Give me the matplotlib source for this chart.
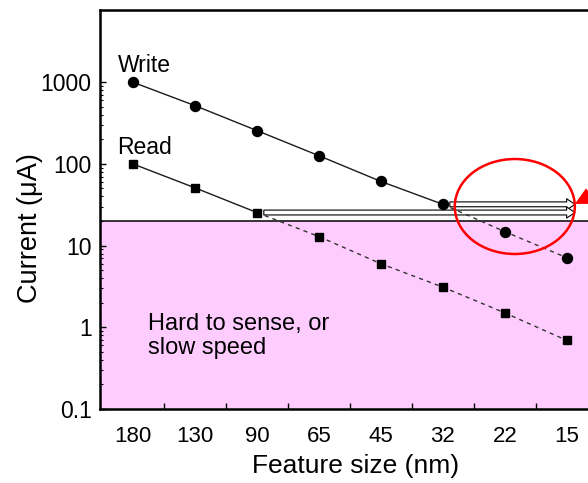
import numpy as np
import matplotlib.pyplot as plt
from matplotlib.patches import Ellipse, Polygon

plt.rcParams['font.family'] = ['Liberation Sans', 'DejaVu Sans']

## Data
features = ['180', '130', '90', '65', '45', '32', '22', '15']
write_current = [1000, 517, 256, 126, 61, 32, 14.8, 7.1]
read_current = [100, 51, 25.4, 12.9, 6.0, 3.1, 1.5, 0.69]
sense_limit = 20.0
write_last_solid = 5     # solid line up to 32 nm, dashed after
read_last_solid = 2      # solid line up to 90 nm, dashed after
ytick_vals = [0.1, 1, 10, 100, 1000]
ytick_labels = ['0.1', '1', '10', '100', '1000']

x = np.arange(len(features))
W, H = 588, 483

fig = plt.figure(figsize=(W / 100, H / 100), dpi=100)
ax = fig.add_axes([100 / W, 74 / H, 488 / W, 399 / H])
ax.set_yscale('log')
ax.set_ylim(0.1, 7650)
ax.set_xlim(-0.53, 7.34)

# shaded region + sensing limit
ax.axhspan(0.1, sense_limit, color='#ffccff', lw=0, zorder=0)
ax.axhline(sense_limit, color='black', lw=1.1, zorder=2)

line_kw = dict(color='#1a1a1a', lw=1.0, zorder=4)
dash_kw = dict(color='#333333', lw=1.0, dashes=(3, 3), zorder=4)
w, r = write_last_solid, read_last_solid
ax.plot(x[:w + 1], write_current[:w + 1], '-', **line_kw)
ax.plot(x[w:], write_current[w:], **dash_kw)
ax.plot(x[:r + 1], read_current[:r + 1], '-', **line_kw)
ax.plot(x[r:], read_current[r:], **dash_kw)
ax.plot(x, write_current, 'o', ms=7.2, color='black', ls='none', zorder=5)
ax.plot(x, read_current, 's', ms=6.0, color='black', ls='none', zorder=5)

# hollow arrows pointing right
arrow_end = 7.13
for i, series in ((w, write_current), (r, read_current)):
   ax.annotate('', xy=(arrow_end, series[i]), xytext=(x[i], series[i]),
               arrowprops=dict(arrowstyle='simple,head_length=0.6,head_width=0.8,tail_width=0.35',
                               fc='white', ec='black', lw=0.8, mutation_scale=10,
                               shrinkA=5, shrinkB=0), zorder=3)

# red circle and marker at the right edge
ax.add_patch(Ellipse((0.850, 0.5075), 0.246, 0.238, transform=ax.transAxes,
                     fill=False, ec='red', lw=1.8, zorder=6))
ax.add_patch(Polygon([(0.973, 0.514), (0.996, 0.553), (1.02, 0.514)], closed=True,
                     transform=ax.transAxes, fc='red', ec='none', clip_on=False, zorder=6))

# labels on the series
ax.annotate('Write', xy=(x[0], write_current[0]), xytext=(-11, 12),
            textcoords='offset points', ha='left', va='center', fontsize=16.5)
ax.annotate('Read', xy=(x[0], read_current[0]), xytext=(-11, 12),
            textcoords='offset points', ha='left', va='center', fontsize=16.5)
ax.text(48 / 488, 1 - 303 / 399, 'Hard to sense, or\nslow speed', transform=ax.transAxes,
        fontsize=17, ha='left', va='top', linespacing=1.1)

# axes styling
ax.spines['right'].set_visible(False)
for s in ('left', 'bottom', 'top'):
   ax.spines[s].set_linewidth(1.8)
ax.set_xticks(x)
ax.set_xticklabels(features)
ax.set_xticks(x[:-1] + 0.5, minor=True)
ax.tick_params(axis='x', which='major', length=0, pad=12, labelsize=16)
ax.tick_params(axis='x', which='minor', direction='in', length=4, width=1)
ax.set_yticks(ytick_vals)
ax.set_yticklabels(ytick_labels)
minor_y = [m * 10.0 ** e for e in range(-1, 3) for m in range(2, 10)]
ax.set_yticks(minor_y, minor=True)
ax.set_yticklabels([], minor=True)
ax.tick_params(axis='y', which='major', direction='in', length=4.5, width=1, pad=6, labelsize=16.5)
ax.tick_params(axis='y', which='minor', direction='in', length=2.5, width=0.8)

fig.text(356 / W, 1 - 466 / H, 'Feature size (nm)', ha='center', va='center', fontsize=19)
fig.text(30 / W, 1 - 228 / H, 'Current (\u03bcA)', ha='center', va='center',
         rotation=90, fontsize=19.5)

fig.savefig('out.png', dpi=100)
